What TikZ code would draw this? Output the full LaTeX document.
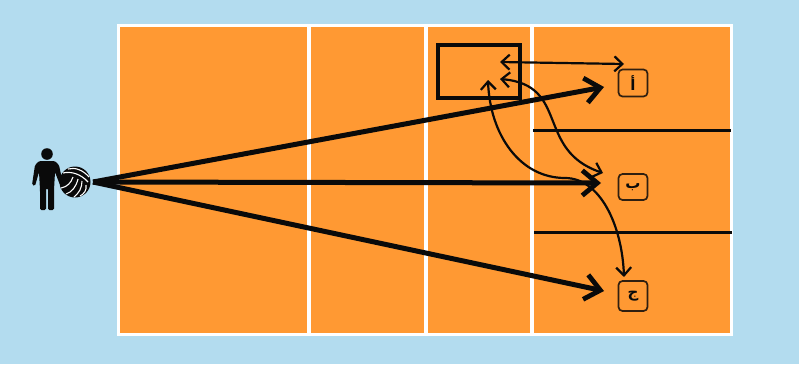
\documentclass[tikz,border=0pt]{standalone}
\usepackage{xcolor}
\usepackage{fontspec}
\usepackage{tikz}
\usetikzlibrary{arrows.meta,positioning}
\TeXXeTstate=1
\newfontfamily\arabicfont[Script=Arabic]{DejaVu Sans}
\definecolor{skybg}{HTML}{B3DCEF}
\definecolor{courtorange}{HTML}{FF9933}
\definecolor{figblack}{HTML}{0A0A0A}

\begin{document}
\begin{tikzpicture}[
    x=1pt,y=-1pt,
    court/.style={draw=white,line width=3pt,fill=courtorange},
    divider/.style={draw=white,line width=3.4pt},
    netline/.style={draw=figblack,line width=3pt},
    zonebox/.style={draw=figblack!85!courtorange,rounded corners=4pt,line width=1.7pt,minimum width=29pt,minimum height=27pt,inner sep=0pt,font=\arabicfont\bfseries\fontsize{15}{15}\selectfont,text=figblack},
    serve/.style={-{Straight Barb[length=15pt,width=25pt,line width=4.8pt]},line width=5pt,draw=figblack},
    pass/.style={{Straight Barb[length=8pt,width=15pt,line width=2.2pt]}-{Straight Barb[length=8pt,width=15pt,line width=2.2pt]},line width=2.2pt,draw=figblack}
  ]
    \fill[skybg] (0,0) rectangle (799,364);
    \path[court] (118,25) rectangle (731,334);
    \draw[divider] (309,25) -- (309,334);
    \draw[divider] (426,25) -- (426,334);
    \draw[divider] (532,25) -- (532,334);
    \draw[netline] (533,130) -- (731,130);
    \draw[netline] (534,232) -- (732,232);
    \draw[draw=figblack,line width=4pt] (438,45) rectangle (520,98);
    % zones
    \node[zonebox] (za) at (633,83) {\beginR أ\endR};
    \node[zonebox,minimum height=26pt] (zb) at (633,187) {\beginR ب\endR};
    \node[zonebox,minimum height=30pt] (zc) at (633,296) {\beginR ج\endR};
    % player
    \fill[figblack] (47,154) circle (5.8pt);
    \fill[figblack,rounded corners=1.5pt] (39,161) -- (55,161) -- (59,165) -- (63,184) -- (60,185) -- (55,172) -- (54,190)
      -- (54,210) -- (48,210) -- (48,188) -- (46,188) -- (46,210) -- (40,210) -- (40,190) -- (39,172) -- (35,186) -- (32,185) -- (35,165) -- cycle;
    % ball
    \node[circle,fill=figblack,minimum size=31pt,inner sep=0pt] (ball) at (75,182) {};
    \draw[white,line width=1.1pt] (63,173) .. controls (71,171) and (81,174) .. (88,182);
    \draw[white,line width=1.1pt] (68,169) .. controls (75,167) and (83,170) .. (89,177);
    \draw[white,line width=1.1pt] (73,177) .. controls (71,183) and (67,187) .. (61,188);
    \draw[white,line width=1.1pt] (78,179) .. controls (76,187) and (72,192) .. (66,194);
    \draw[white,line width=1.1pt] (82,181) .. controls (82,188) and (79,193) .. (74,197);
    \draw[white,line width=1.1pt] (86,185) .. controls (87,190) and (84,194) .. (80,196);
    % serves
    \coordinate (src) at (93,182);
    \coordinate (ta) at (604,87);
    \coordinate (tb) at (601,183);
    \coordinate (tc) at (604,291);
    \draw[serve] (src) -- (ta);
    \draw[serve] (src) -- (tb);
    \draw[serve] (src) -- (tc);
    % passes
    \coordinate (ba) at (500,62);
    \coordinate (bb) at (500,79);
    \coordinate (bc) at (488,80);
    \coordinate (pa) at (624,64);
    \coordinate (pb) at (603,173);
    \coordinate (pc) at (624,277);
    \draw[pass] (ba) -- (pa);
    \draw[pass] (bb) .. controls (570,85) and (535,150) .. (pb);
    \draw[pass] (bc) .. controls (490,135) and (520,178) .. (565,178) .. controls (600,178) and (622,225) .. (pc);
  \end{tikzpicture}
\end{document}
